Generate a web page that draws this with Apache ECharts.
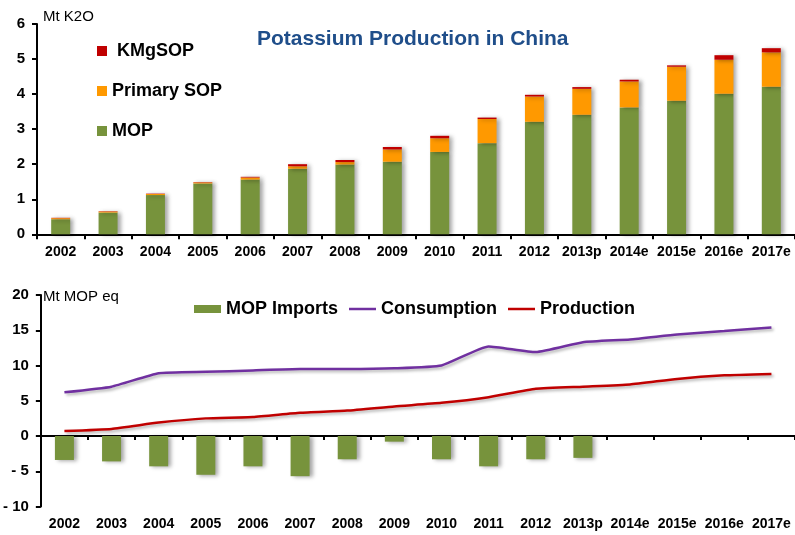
<!DOCTYPE html>
<html>
<head>
<meta charset="utf-8">
<script src="https://cdn.jsdelivr.net/npm/echarts@6/dist/echarts.min.js"></script>
<style>
  html, body { margin: 0; padding: 0; background: #fff; }
  #chart { width: 795px; height: 535px; }
</style>
</head>
<body>
<div id="chart"></div>
<script>
// Years shown on both panels
const categories = ['2002','2003','2004','2005','2006','2007','2008','2009','2010','2011','2012','2013p','2014e','2015e','2016e','2017e'];

// Upper panel: potash production by product, Mt K2O
const mop        = [0.43, 0.62, 1.12, 1.45, 1.56, 1.87, 1.99, 2.07, 2.35, 2.60, 3.21, 3.41, 3.62, 3.81, 4.01, 4.21];
const primarySop = [0.03, 0.03, 0.03, 0.03, 0.06, 0.07, 0.07, 0.35, 0.39, 0.69, 0.72, 0.74, 0.74, 0.97, 0.97, 0.98];
const kmgSop     = [0.01, 0.01, 0.01, 0.01, 0.02, 0.06, 0.06, 0.07, 0.07, 0.04, 0.05, 0.05, 0.05, 0.04, 0.13, 0.12];

// Lower panel: balance, Mt MOP equivalent
const mopImports  = [-3.4, -3.6, -4.3, -5.5, -4.3, -5.7, -3.3, -0.8, -3.3, -4.3, -3.3, -3.1, null, null, null, null];
const consumption = [6.2, 7.0, 8.9, 9.1, 9.3, 9.5, 9.5, 9.6, 10.0, 12.7, 11.9, 13.3, 13.7, 14.4, 14.9, 15.4];
const production  = [0.7, 1.0, 1.9, 2.5, 2.7, 3.3, 3.6, 4.2, 4.7, 5.5, 6.7, 7.0, 7.3, 8.1, 8.6, 8.8];

const FONT = '"Liberation Sans", Arial, sans-serif';
const GREEN = '#77933C', ORANGE = '#FF9900', RED = '#C00000', PURPLE = '#7030A0';

const barShadow = { shadowColor: 'rgba(0,0,0,0.35)', shadowBlur: 4, shadowOffsetX: 3, shadowOffsetY: 1 };
const lineShadow = { shadowColor: 'rgba(0,0,0,0.3)', shadowBlur: 3, shadowOffsetX: 2, shadowOffsetY: 2 };

// thin horizontal stroke used as the legend key of the line series
const LINE_KEY = 'path://M0,0H27V2.5H0Z';

const axisLineStyle = { color: '#000', width: 2 };
const yLabel = { color: '#000', fontFamily: FONT, fontWeight: 'bold', fontSize: 15, margin: 12 };
const xLabel = { color: '#000', fontFamily: FONT, fontWeight: 'bold', fontSize: 14, interval: 0 };

const chart = echarts.init(document.getElementById('chart'), null, { renderer: 'canvas' });

chart.setOption({
  animation: false,
  backgroundColor: '#fff',
  textStyle: { fontFamily: FONT },
  title: {
    text: 'Potassium Production in China',
    left: 252, top: 24,
    textStyle: { color: '#1F4E8A', fontFamily: FONT, fontWeight: 'bold', fontSize: 21 }
  },
  graphic: [
    { type: 'text', left: 43, top: 9, style: { text: 'Mt K2O', fill: '#000', font: '15px ' + FONT } },
    { type: 'text', left: 43, top: 289, style: { text: 'Mt MOP eq', fill: '#000', font: '15px ' + FONT } }
  ],
  legend: [
    {
      orient: 'vertical', left: 97, top: 41, padding: 0,
      itemWidth: 10, itemHeight: 10, itemGap: 20,
      icon: 'rect',
      data: [' KMgSOP', 'Primary SOP', 'MOP'],
      textStyle: { color: '#000', fontFamily: FONT, fontWeight: 'bold', fontSize: 18, lineHeight: 20 }
    },
    {
      orient: 'horizontal', left: 194, top: 300, padding: 0,
      itemWidth: 27, itemHeight: 8, itemGap: 11,
      symbolKeepAspect: true,
      data: [
        { name: 'MOP Imports', icon: 'rect' },
        { name: 'Consumption', icon: LINE_KEY },
        { name: 'Production', icon: LINE_KEY }
      ],
      textStyle: { color: '#000', fontFamily: FONT, fontWeight: 'bold', fontSize: 18 }
    }
  ],
  grid: [
    { left: 37, top: 24, width: 762, height: 210.3 },
    { left: 37, top: 295, width: 762, height: 211.5 }
  ],
  xAxis: [
    {
      gridIndex: 0, type: 'category', data: categories,
      axisLine: { lineStyle: axisLineStyle },
      axisTick: { show: true, length: 5, interval: 0, lineStyle: { color: '#000', width: 2 } },
      axisLabel: Object.assign({ margin: 11 }, xLabel)
    },
    {
      // labels along the bottom edge of the lower panel
      gridIndex: 1, type: 'category', data: categories, position: 'bottom',
      axisLine: { show: false, onZero: false },
      axisTick: { show: false },
      axisLabel: Object.assign({ margin: 11 }, xLabel)
    },
    {
      // zero line with tick marks of the lower panel
      gridIndex: 1, type: 'category', data: categories, position: 'top',
      axisLine: { onZero: true, lineStyle: axisLineStyle },
      axisTick: { show: true, inside: true, length: 4, interval: 0, lineStyle: { color: '#000', width: 2 } },
      axisLabel: { show: false }
    }
  ],
  yAxis: [
    {
      gridIndex: 0, type: 'value', min: 0, max: 6, interval: 1,
      axisLine: { show: true, lineStyle: axisLineStyle },
      axisTick: { show: true, length: 5, lineStyle: { color: '#000', width: 2 } },
      axisLabel: yLabel,
      splitLine: { show: false }
    },
    {
      gridIndex: 1, type: 'value', min: -10, max: 20, interval: 5,
      axisLine: { show: true, onZero: false, lineStyle: axisLineStyle },
      axisTick: { show: true, length: 5, lineStyle: { color: '#000', width: 2 } },
      axisLabel: Object.assign({}, yLabel, {
        formatter: v => (v < 0 ? '- ' + Math.abs(v) : String(v))
      }),
      splitLine: { show: false }
    }
  ],
  series: [
    {
      name: 'MOP', type: 'bar', stack: 'prod', xAxisIndex: 0, yAxisIndex: 0,
      barWidth: 19, data: mop,
      itemStyle: Object.assign({ color: GREEN }, barShadow)
    },
    {
      name: 'Primary SOP', type: 'bar', stack: 'prod', xAxisIndex: 0, yAxisIndex: 0,
      barWidth: 19, data: primarySop,
      itemStyle: Object.assign({ color: ORANGE }, barShadow)
    },
    {
      name: ' KMgSOP', type: 'bar', stack: 'prod', xAxisIndex: 0, yAxisIndex: 0,
      barWidth: 19, data: kmgSop,
      itemStyle: Object.assign({ color: RED }, barShadow)
    },
    {
      name: 'MOP Imports', type: 'bar', xAxisIndex: 2, yAxisIndex: 1,
      barWidth: 19, data: mopImports,
      itemStyle: Object.assign({ color: GREEN }, barShadow)
    },
    {
      name: 'Consumption', type: 'line', xAxisIndex: 2, yAxisIndex: 1,
      data: consumption, symbol: 'none', smooth: 0.15,
      itemStyle: { color: PURPLE },
      lineStyle: Object.assign({ color: PURPLE, width: 2.5 }, lineShadow)
    },
    {
      name: 'Production', type: 'line', xAxisIndex: 2, yAxisIndex: 1,
      data: production, symbol: 'none', smooth: 0.15,
      itemStyle: { color: RED },
      lineStyle: Object.assign({ color: RED, width: 2.5 }, lineShadow)
    }
  ]
});
</script>
</body>
</html>
